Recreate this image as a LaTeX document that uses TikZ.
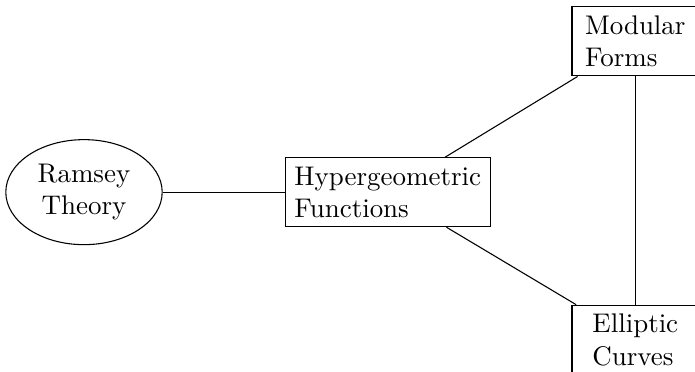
\documentclass[tikz,border=0pt]{standalone}
\usetikzlibrary{shapes.geometric}
\begin{document}
\begin{tikzpicture}[topic/.style={draw, align=left, minimum width=1.65cm}, root/.style={draw, ellipse, align=center}]
  \useasboundingbox (0.02,0.03) rectangle (9.08,4.879);
  \node[root] (ramsey) at (1.115,2.374) {Ramsey\\Theory};
  \node[topic] (hyper) at (5.075,2.374) {Hypergeometric\\Functions};
  \node[topic] (modular) at (8.302,4.341) {Modular\\Forms};
  \node[topic] (elliptic) at (8.302,0.446) {Elliptic\\Curves};
  \draw (ramsey) -- (hyper);
  \draw (hyper) -- (modular);
  \draw (hyper) -- (elliptic);
  \draw (modular) -- (elliptic);
\end{tikzpicture}
\end{document}
